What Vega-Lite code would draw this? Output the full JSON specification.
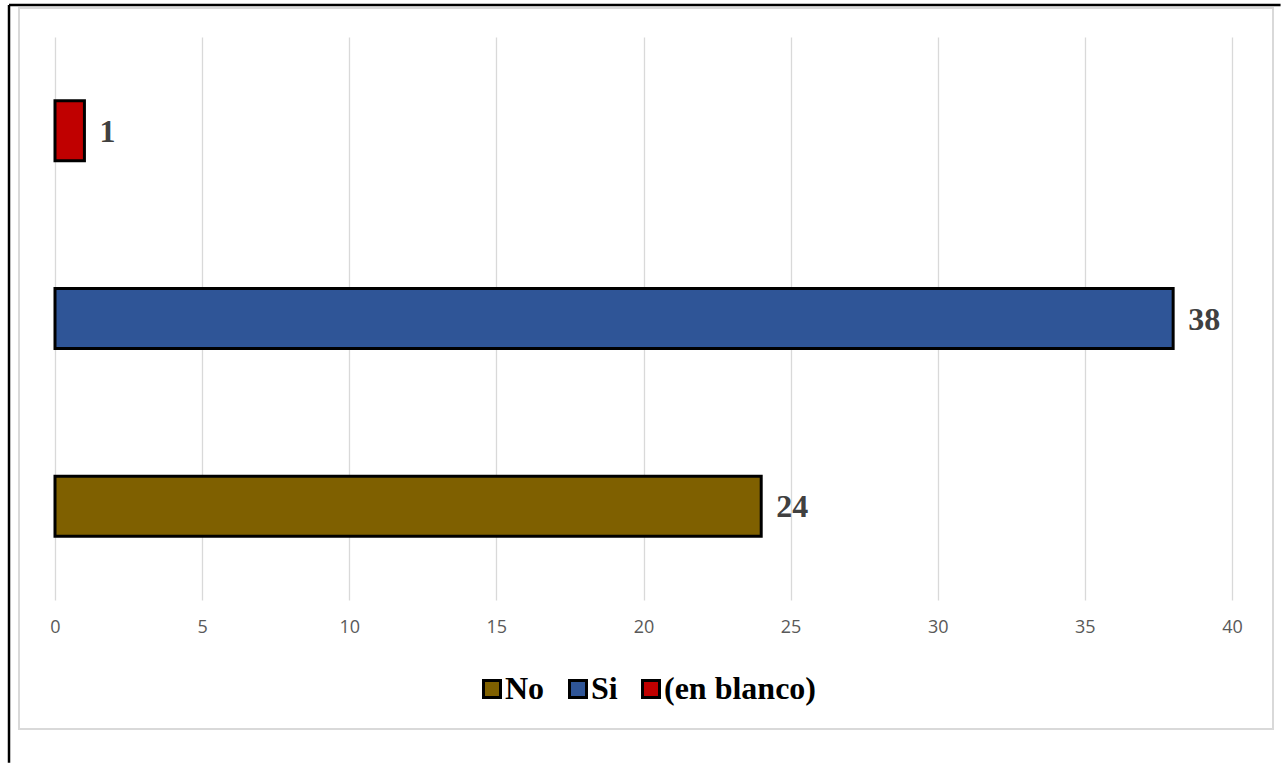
{
  "$schema": "https://vega.github.io/schema/vega-lite/v6.json",
  "width": 1177,
  "height": 563,
  "autosize": {"type": "none"},
  "padding": {"left": 55, "top": 37, "right": 49, "bottom": 163},
  "background": "white",
  "config": {
    "view": {"stroke": null},
    "axis": {"labelFontSize": 18, "labelFont": "Open Sans", "labelColor": "#595959"},
    "axisX": {"domain": false, "ticks": false, "grid": true, "gridColor": "#d9d9d9", "gridWidth": 1.3, "labelFlush": false,
      "labelFont": "Open Sans", "labelFontSize": 18, "labelColor": "#595959", "labelPadding": 18, "title": null}
  },
  "datasets": {
    "bars": [
      {"cat": "No", "value": 24},
      {"cat": "Si", "value": 38},
      {"cat": "(en blanco)", "value": 1}
    ],
    "frame": [
      {"x0": -1.2234, "x1": 41.393, "y0": -0.2291, "y1": 1.0515}
    ],
    "page": [
      {"side": "left", "x0": -1.563, "x1": -1.563, "y0": -0.289, "y1": 1.0568},
      {"side": "top", "x0": -1.563, "x1": 41.65, "y0": 1.0568, "y1": 1.0568}
    ]
  },
  "layer": [
    {
      "layer": [
        {
          "data": {"name": "frame"},
          "mark": {"type": "rect", "fill": null, "stroke": "#d9d9d9", "strokeWidth": 2, "clip": false},
          "encoding": {
            "x": {"field": "x0", "type": "quantitative", "scale": {"domain": [0, 40], "nice": false},
              "axis": {"values": [0,5,10,15,20,25,30,35,40], "title": null, "labelFontSize": 18}},
            "x2": {"field": "x1"},
            "y": {"field": "y0", "type": "quantitative", "scale": {"domain": [0, 1], "nice": false, "zero": false}, "axis": null},
            "y2": {"field": "y1"}
          }
        },
        {
          "data": {"name": "page"},
          "mark": {"type": "rule", "stroke": "black", "strokeWidth": 2.5, "clip": false},
          "encoding": {
            "x": {"field": "x0", "type": "quantitative", "axis": {"values": [0,5,10,15,20,25,30,35,40], "title": null, "labelFontSize": 18}},
            "x2": {"field": "x1"},
            "y": {"field": "y0", "type": "quantitative", "axis": null},
            "y2": {"field": "y1"}
          }
        }
      ]
    },
    {
      "data": {"name": "bars"},
      "encoding": {
        "y": {"field": "cat", "type": "nominal", "sort": ["(en blanco)", "Si", "No"],
          "scale": {"paddingInner": 0.68, "paddingOuter": 0.34}, "axis": null},
        "x": {"field": "value", "type": "quantitative", "axis": {"values": [0,5,10,15,20,25,30,35,40], "title": null, "labelFontSize": 18}}
      },
      "layer": [
        {
          "mark": {"type": "bar", "stroke": "black", "strokeWidth": 3},
          "encoding": {
            "color": {"field": "cat", "type": "nominal",
              "scale": {"domain": ["No", "Si", "(en blanco)"], "range": ["#7F6000", "#2F5597", "#C00000"]},
              "legend": {"title": null, "orient": "none", "legendX": 421, "legendY": 636, "direction": "horizontal",
                "symbolType": "square", "symbolSize": 289, "symbolStrokeColor": "black", "symbolStrokeWidth": 3,
                "labelFont": "Liberation Serif", "labelFontWeight": "bold", "labelFontSize": 32, "labelColor": "black",
                "columnPadding": 17, "labelOffset": -3, "symbolOffset": 0}
            }
          }
        },
        {
          "mark": {"type": "text", "align": "left", "dx": 15, "dy": 1, "font": "Liberation Serif", "fontWeight": "bold", "fontSize": 32, "color": "#404040"},
          "encoding": {"text": {"field": "value", "type": "quantitative"}}
        }
      ]
    }
  ],
  "resolve": {"scale": {"y": "independent"}}
}
